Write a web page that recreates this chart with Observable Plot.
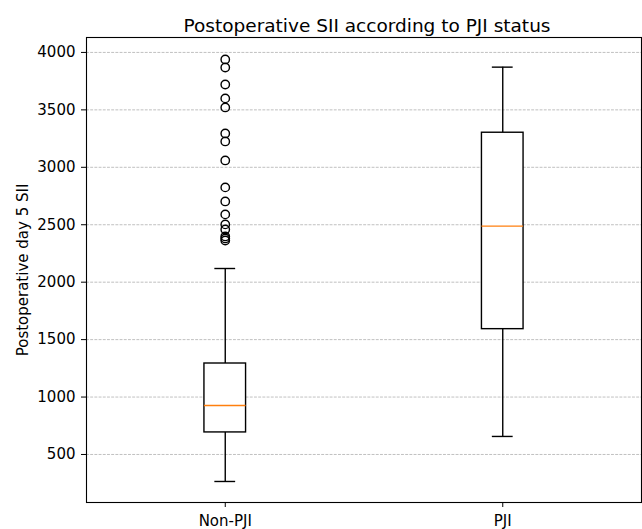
<!DOCTYPE html>
<html>
<head>
<meta charset="utf-8">
<script src="https://cdn.jsdelivr.net/npm/d3@7"></script>
<script src="https://cdn.jsdelivr.net/npm/@observablehq/plot@0.6"></script>
<style>
  body { margin: 0; background: white; }
  #chart { width: 642px; height: 529px; }
</style>
</head>
<body>
<div id="chart"></div>
<script>
const categories = ["Non-PJI", "PJI"];
const positions = [1, 2];
const whiskerLow = [265, 657];
const q1 = [692, 1591];
const median = [927, 2488];
const q3 = [1292, 3301];
const whiskerHigh = [2119, 3872];
const outliersNonPJI = [3939, 3869, 3721, 3600, 3521, 3295, 3225, 3060, 2825, 2703, 2590, 2503, 2459, 2398, 2381, 2363];
const yTicks = [500, 1000, 1500, 2000, 2500, 3000, 3500, 4000];
const title = "Postoperative SII according to PJI status";
const yLabel = "Postoperative day 5 SII";

const boxes = categories.map((c, i) => ({
  cat: c, pos: positions[i], lo: whiskerLow[i], q1: q1[i], med: median[i], q3: q3[i], hi: whiskerHigh[i]
}));
const outliers = outliersNonPJI.map(v => ({pos: positions[0], v}));

const halfBox = 0.075, halfCap = 0.0375;
const font = "DejaVu Sans, sans-serif";

const chart = Plot.plot({
  width: 642,
  height: 529,
  marginTop: 37,
  marginBottom: 27,
  marginLeft: 86,
  marginRight: 1,
  style: {fontFamily: font, fontSize: "15px", color: "#000", background: "white"},
  x: {domain: [0.5, 2.5]},
  y: {domain: [82, 4130]},
  marks: [
    Plot.gridY(yTicks, {stroke: "#b0b0b0", strokeOpacity: 1, strokeWidth: 0.8, strokeDasharray: "2.9,1.3"}),
    Plot.axisY(yTicks, {tickSize: 5, tickPadding: 6, fontSize: 15, tickFormat: d => String(d), label: yLabel, labelAnchor: "center", labelArrow: "none", labelOffset: 69}),
    Plot.axisX(positions, {tickSize: 5, tickPadding: 8, fontSize: 15, tickFormat: (d) => categories[positions.indexOf(d)], label: null}),
    Plot.ruleX(boxes, {x: "pos", y1: "lo", y2: "q1", stroke: "black", strokeWidth: 1.4}),
    Plot.ruleX(boxes, {x: "pos", y1: "q3", y2: "hi", stroke: "black", strokeWidth: 1.4}),
    Plot.ruleY(boxes, {y: "lo", x1: d => d.pos - halfCap, x2: d => d.pos + halfCap, stroke: "black", strokeWidth: 1.4}),
    Plot.ruleY(boxes, {y: "hi", x1: d => d.pos - halfCap, x2: d => d.pos + halfCap, stroke: "black", strokeWidth: 1.4}),
    Plot.rect(boxes, {x1: d => d.pos - halfBox, x2: d => d.pos + halfBox, y1: "q1", y2: "q3", fill: "white", stroke: "black", strokeWidth: 1.4}),
    Plot.ruleY(boxes, {y: "med", x1: d => d.pos - halfBox, x2: d => d.pos + halfBox, stroke: "#ff7f0e", strokeWidth: 1.4}),
    Plot.dot(outliers, {x: "pos", y: "v", r: 4.2, stroke: "black", strokeWidth: 1.4, fill: "none"}),
    Plot.frame({stroke: "black", strokeWidth: 1.1}),
    Plot.text([title], {frameAnchor: "top", lineAnchor: "bottom", dy: -6, dx: 3, fontSize: 18.5, fill: "black", fontFamily: font})
  ]
});
document.getElementById("chart").appendChild(chart);
</script>
</body>
</html>
